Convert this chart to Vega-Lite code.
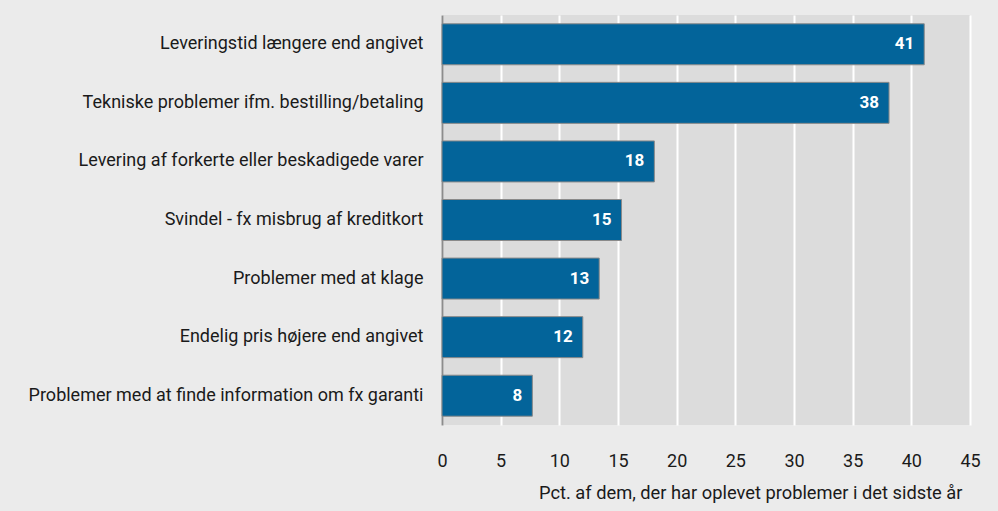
{
  "$schema": "https://vega.github.io/schema/vega-lite/v6.json",
  "width": 528,
  "height": 410,
  "autosize": "none",
  "padding": {"left": 442, "top": 15, "right": 28, "bottom": 86},
  "background": "#ebebeb",
  "config": {
    "view": {"fill": "#dcdcdc", "stroke": null},
    "font": "Roboto"
  },
  "data": {
    "values": [
      {"problem": "Leveringstid længere end angivet", "pct": 41.1},
      {"problem": "Tekniske problemer ifm. bestilling/betaling", "pct": 38.1},
      {"problem": "Levering af forkerte eller beskadigede varer", "pct": 18.1},
      {"problem": "Svindel - fx misbrug af kreditkort", "pct": 15.3},
      {"problem": "Problemer med at klage", "pct": 13.4},
      {"problem": "Endelig pris højere end angivet", "pct": 12.0},
      {"problem": "Problemer med at finde information om fx garanti", "pct": 7.7}
    ]
  },
  "encoding": {
    "y": {
      "field": "problem", "type": "nominal", "sort": null,
      "scale": {"paddingInner": 0.3, "paddingOuter": 0.15},
      "axis": {
        "title": null, "ticks": false, "domain": true, "domainColor": "#8c8c8c", "domainWidth": 2,
        "labelFontSize": 18, "labelColor": "#1a1a1a", "labelPadding": 19, "labelLimit": 440, "grid": false
      }
    },
    "x": {
      "field": "pct", "type": "quantitative",
      "scale": {"domain": [0, 45], "nice": false},
      "axis": {
        "values": [0, 5, 10, 15, 20, 25, 30, 35, 40, 45],
        "grid": true, "gridColor": "white", "gridWidth": 2, "gridOpacity": 1,
        "domain": false, "ticks": false, "labelFlush": false,
        "labelFontSize": 18, "labelColor": "#1a1a1a", "labelPadding": 27,
        "title": "Pct. af dem, der har oplevet problemer i det sidste år",
        "titleFontSize": 18.3, "titleFontWeight": "normal", "titleColor": "#1a1a1a",
        "titleAnchor": null, "titleAlign": "right", "titleX": 520, "titleY": 68, "titleBaseline": "middle"
      }
    }
  },
  "layer": [
    {"mark": {"type": "bar", "color": "#03649a", "stroke": "#8a8a8a", "strokeWidth": 1}},
    {
      "mark": {"type": "text", "align": "right", "dx": -10, "color": "white", "fontWeight": "bold", "fontSize": 17},
      "encoding": {"text": {"field": "pct", "type": "quantitative", "format": ".0f"}}
    }
  ]
}
